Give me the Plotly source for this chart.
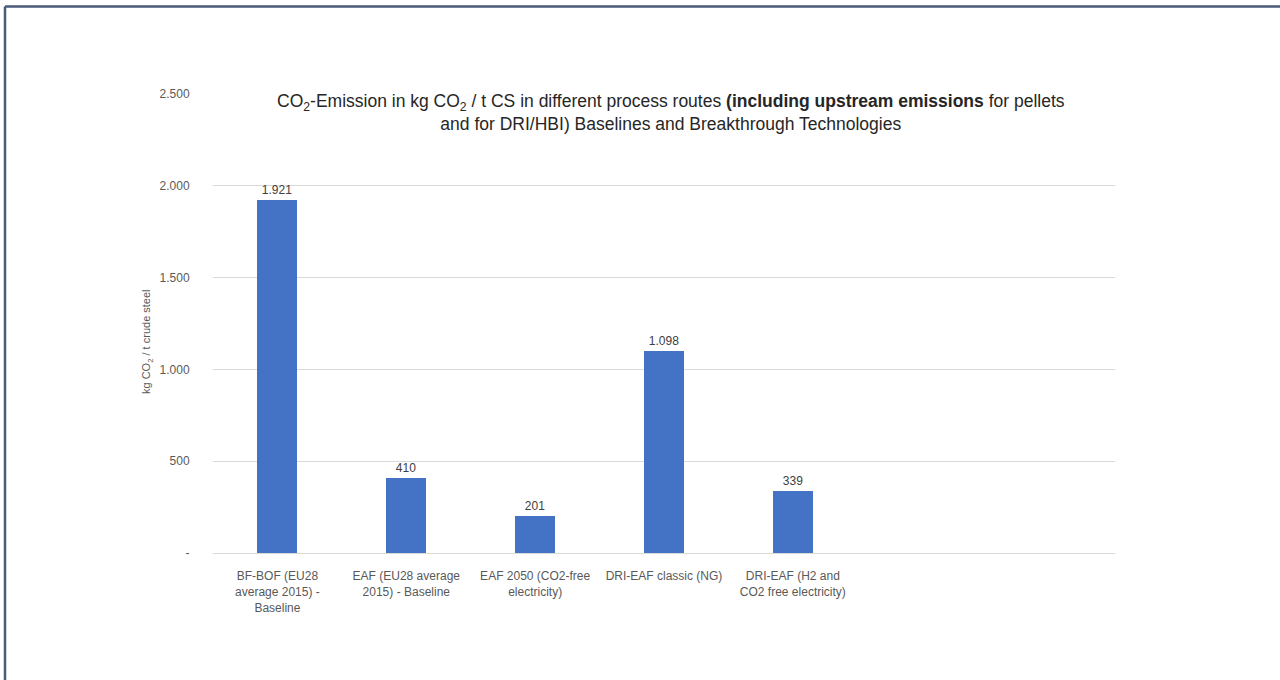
import plotly.graph_objects as go

# Process routes and their CO2 emissions (kg CO2 per t crude steel)
categories = [
    "BF-BOF (EU28<br>average 2015) -<br>Baseline",
    "EAF (EU28 average<br>2015) - Baseline",
    "EAF 2050 (CO2-free<br>electricity)",
    "DRI-EAF classic (NG)",
    "DRI-EAF (H2 and<br>CO2 free electricity)",
]
emissions = [1921, 410, 201, 1098, 339]
value_labels = ["1.921", "410", "201", "1.098", "339"]

y_ticks = [0, 500, 1000, 1500, 2000, 2500]
y_tick_labels = ["-", "500", "1.000", "1.500", "2.000", "2.500"]

FONT = "Liberation Sans Narrow, Arial Narrow, Liberation Sans, Arial, sans-serif"
GREY = "#595959"
positions = list(range(len(categories)))

fig = go.Figure(
    go.Bar(
        x=positions,
        y=emissions,
        width=0.31,
        marker=dict(color="#4472C4", line=dict(width=0)),
        text=value_labels,
        textposition="outside",
        textfont=dict(family=FONT, size=12, color="#404040"),
        cliponaxis=False,
        hoverinfo="skip",
    )
)

fig.update_layout(
    width=1280,
    height=680,
    margin=dict(l=213, r=165, t=94, b=127),
    paper_bgcolor="white",
    plot_bgcolor="white",
    showlegend=False,
    font=dict(family=FONT, color=GREY, size=12),
    bargap=0,
    xaxis=dict(
        range=[-0.5, 6.5],
        tickvals=positions,
        ticktext=categories,
        tickfont=dict(family=FONT, size=12, color=GREY),
        showgrid=False,
        zeroline=False,
        showline=False,
        ticks="outside",
        ticklen=12,
        tickcolor="rgba(0,0,0,0)",
    ),
    yaxis=dict(
        range=[0, 2500],
        tickvals=y_ticks,
        ticktext=y_tick_labels,
        tickfont=dict(family=FONT, size=12, color=GREY),
        showgrid=True,
        gridcolor="#d9d9d9",
        gridwidth=1,
        zeroline=True,
        zerolinecolor="#d9d9d9",
        zerolinewidth=1,
        showline=False,
        ticks="outside",
        ticklen=20,
        tickcolor="rgba(0,0,0,0)",
    ),
)

# Chart title, with a white box sitting over the top gridline
fig.add_annotation(
    xref="paper", yref="paper",
    x=0.508, y=1.01, xanchor="center", yanchor="top",
    text=("CO<sub>2</sub>-Emission in kg CO<sub>2</sub> / t CS in different process routes "
          "<b>(including upstream emissions</b> for pellets<br>"
          "and for DRI/HBI) Baselines and Breakthrough Technologies"),
    showarrow=False,
    font=dict(family=FONT, size=17.5, color="#262626"),
    bgcolor="white",
    align="center",
)

# Y-axis title
fig.add_annotation(
    xref="paper", yref="paper",
    x=-0.073, y=0.46, xanchor="center", yanchor="middle",
    text="kg CO<sub>2</sub> / t crude steel",
    textangle=-90,
    showarrow=False,
    font=dict(family=FONT, size=11, color=GREY),
)

# Frame lines along the top and left edges of the page
W, H = 902.0, 459.0
left_px, top_px = 5.0, 6.5
x_left = (left_px - 213) / W
x_right = (1280 - 213) / W
y_top = (553 - top_px) / H
y_bottom = (553 - 680) / H
frame = dict(color="#4a5a78", width=2.5)
fig.add_shape(type="line", xref="paper", yref="paper",
              x0=x_left, x1=x_right, y0=y_top, y1=y_top, line=frame)
fig.add_shape(type="line", xref="paper", yref="paper",
              x0=x_left, x1=x_left, y0=y_top, y1=y_bottom, line=frame)

fig.write_html("out.html")
